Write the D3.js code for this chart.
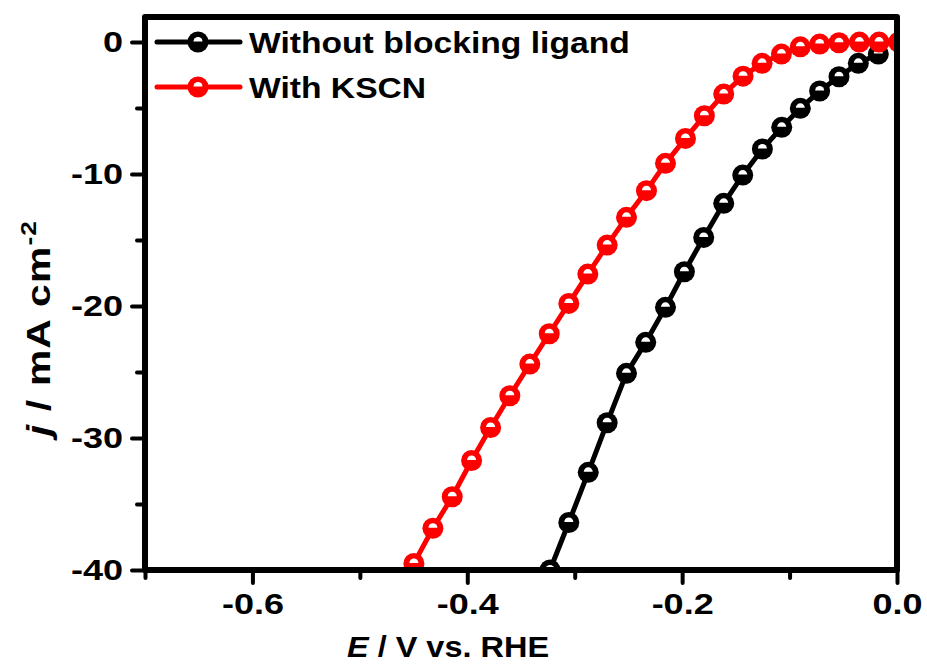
<!DOCTYPE html>
<html>
<head>
<meta charset="utf-8">
<script src="https://cdn.jsdelivr.net/npm/d3@7"></script>
<style>
    body { margin: 0; background: #fff; }
    svg text { font-family: "Liberation Sans", Arial, sans-serif; font-weight: bold; fill: #000; }
</style>
</head>
<body>
<div id="chart"></div>
<script>
// Data (E in V vs. RHE, j in mA cm-2)
const blankE = [-0.323, -0.3055, -0.2874, -0.2698, -0.2518, -0.2339, -0.2155, -0.1979, -0.1799,
    -0.1613, -0.1436, -0.1253, -0.1073, -0.090, -0.072, -0.054, -0.036, -0.0174];
const blankJ = [-40.0, -36.4, -32.6, -28.84, -25.1, -22.75, -20.1, -17.4, -14.8,
    -12.22, -10.08, -8.1, -6.46, -5.02, -3.71, -2.63, -1.61, -0.91];

const kscnE = [-0.4497, -0.432, -0.414, -0.396, -0.3783, -0.3604, -0.3418, -0.3237, -0.3055,
    -0.2878, -0.2698, -0.2518, -0.2332, -0.2155, -0.1969, -0.1793, -0.1613, -0.1433,
    -0.1256, -0.1076, -0.090, -0.072, -0.054, -0.035, -0.0167, 0.0015];
const kscnJ = [-39.5, -36.84, -34.45, -31.7, -29.2, -26.8, -24.4, -22.1, -19.8,
    -17.58, -15.38, -13.28, -11.26, -9.19, -7.3, -5.58, -3.94, -2.58,
    -1.61, -0.91, -0.36, -0.15, -0.05, 0.0, 0.0, 0.0];

const seriesNames = ["Without blocking ligand", "With KSCN"];
const seriesColors = ["#000000", "#ff0000"];

const xTicks = [-0.6, -0.4, -0.2, 0.0];
const xMinor = [-0.7, -0.5, -0.3, -0.1];
const yTicks = [0, -10, -20, -30, -40];
const yMinor = [-5, -15, -25, -35];

const width = 927, height = 666;
const margin = { left: 145, right: 30, top: 17, bottom: 96 };

// the original figure's lettering is a bit wider than plain Arial bold
const TICK_STRETCH = 1.2;

const svg = d3.select("#chart").append("svg")
    .attr("width", width)
    .attr("height", height);

const x = d3.scaleLinear().domain([-0.7, 0]).range([margin.left, width - margin.right]);
const y = d3.scaleLinear().domain([-40, 1.9]).range([height - margin.bottom, margin.top]);

// clip region = plot area
svg.append("clipPath").attr("id", "plotClip")
    .append("rect")
    .attr("x", x(-0.7)).attr("y", y(1.9))
    .attr("width", x(0) - x(-0.7)).attr("height", y(-40) - y(1.9));

const series = [
    { name: seriesNames[0], color: seriesColors[0], pts: blankE.map((e, i) => [e, blankJ[i]]) },
    { name: seriesNames[1], color: seriesColors[1], pts: kscnE.map((e, i) => [e, kscnJ[i]]) }
];

const line = d3.line().x(d => x(d[0])).y(d => y(d[1]));

// marker: filled circle with small white half disc at top of centre
function drawMarker(g, cx, cy, color) {
    g.append("circle").attr("cx", cx).attr("cy", cy).attr("r", 10.5).attr("fill", color);
    g.append("path")
        .attr("d", d3.arc()({ innerRadius: 0, outerRadius: 4.5, startAngle: -Math.PI / 2, endAngle: Math.PI / 2 }))
        .attr("transform", "translate(" + cx + "," + (cy - 0.5) + ")")
        .attr("fill", "#fff");
}

const plot = svg.append("g").attr("clip-path", "url(#plotClip)");
series.forEach(s => {
    plot.append("path")
        .datum(s.pts)
        .attr("d", line)
        .attr("fill", "none")
        .attr("stroke", s.color)
        .attr("stroke-width", 5)
        .attr("stroke-linejoin", "round");
    const mg = plot.append("g");
    s.pts.forEach(p => drawMarker(mg, x(p[0]), y(p[1]), s.color));
});

// plain hyphen instead of the unicode minus
const hyph = f => d => f(d).replace("\u2212", "-");

// axes: major + minor ticks
const xAxis = d3.axisBottom(x).tickValues(xTicks).tickFormat(hyph(d3.format(".1f"))).tickSize(13).tickPadding(10);
const xAxisMinor = d3.axisBottom(x).tickValues(xMinor).tickFormat("").tickSize(8);
const yAxis = d3.axisLeft(y).tickValues(yTicks).tickFormat(hyph(d3.format("d"))).tickSize(13).tickPadding(9);
const yAxisMinor = d3.axisLeft(y).tickValues(yMinor).tickFormat("").tickSize(8);

function styleAxis(g) {
    g.select(".domain").remove();
    g.selectAll(".tick line").attr("stroke", "#000").attr("stroke-width", 4).attr("stroke-linecap", "round");
    g.selectAll(".tick text")
        .style("font-size", "30px")
        .each(function () {
            const t = d3.select(this);
            const x0 = +t.attr("x") || 0;
            t.attr("x", x0 / TICK_STRETCH).attr("transform", "scale(" + TICK_STRETCH + ",1)");
        });
}

svg.append("g").attr("transform", "translate(0," + y(-40) + ")").call(xAxis).call(styleAxis);
svg.append("g").attr("transform", "translate(0," + y(-40) + ")").call(xAxisMinor).call(styleAxis);
svg.append("g").attr("transform", "translate(" + x(-0.7) + ",0)").call(yAxis).call(styleAxis);
svg.append("g").attr("transform", "translate(" + x(-0.7) + ",0)").call(yAxisMinor).call(styleAxis);

// frame
svg.append("rect")
    .attr("x", x(-0.7)).attr("y", y(1.9))
    .attr("width", x(0) - x(-0.7)).attr("height", y(-40) - y(1.9))
    .attr("fill", "none").attr("stroke", "#000").attr("stroke-width", 6)
    .attr("stroke-linejoin", "round");

// axis titles
const xt = svg.append("text")
    .attr("transform", "translate(448,657) scale(1.12,1)")
    .attr("text-anchor", "middle")
    .style("font-size", "29px");
xt.append("tspan").style("font-style", "italic").text("E");
xt.append("tspan").text(" / V vs. RHE");

const yt = svg.append("text")
    .attr("transform", "translate(50,328) rotate(-90) scale(1.2,1)")
    .attr("text-anchor", "middle")
    .style("font-size", "34px").style("letter-spacing", "1px");
yt.append("tspan").style("font-style", "italic").text("j");
yt.append("tspan").text(" / mA cm");
yt.append("tspan").attr("dy", -14).style("font-size", "22px").text("-2");

// legend
const legend = svg.append("g");
series.forEach((s, i) => {
    const ly = 42 + i * 45;
    legend.append("line")
        .attr("x1", 157).attr("x2", 240).attr("y1", ly).attr("y2", ly)
        .attr("stroke", s.color).attr("stroke-width", 5).attr("stroke-linecap", "round");
    drawMarker(legend, 198, ly, s.color);
    legend.append("text")
        .attr("transform", "translate(249," + (ly + 11) + ") scale(1.16,1)")
        .style("font-size", "29px")
        .text(s.name);
});
</script>
</body>
</html>
